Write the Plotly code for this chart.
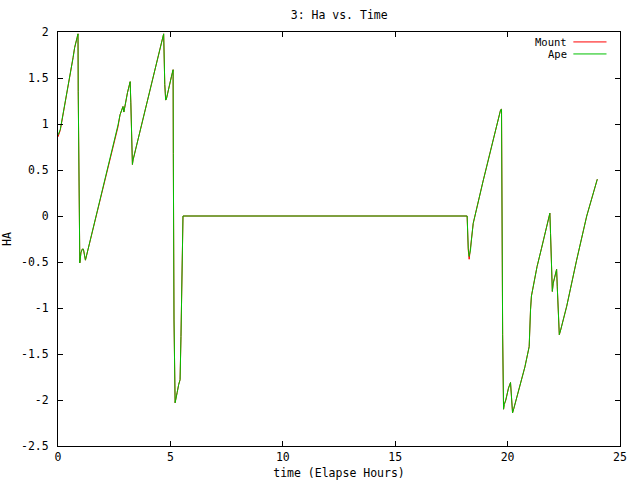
import plotly.graph_objects as go

# ---- data ----
time_hours = [
    0.00, 0.10, 0.67, 0.74, 0.85, 0.89, 0.90, 0.93, 0.97, 1.02,
    1.08, 1.13, 1.17, 1.22, 2.67, 2.76, 2.89, 2.93, 3.09, 3.15,
    3.21, 3.24, 3.27, 3.31, 3.34, 4.00, 4.67, 4.70, 4.75, 4.79,
    4.82, 5.05, 5.12, 5.13, 5.16, 5.21, 5.24, 5.30, 5.37, 5.43,
    5.47, 5.52, 5.56, 18.20, 18.21, 18.25, 18.29, 18.35, 18.39, 18.44,
    18.47, 18.91, 19.69, 19.73, 19.74, 19.78, 19.82, 19.85, 19.92, 19.98,
    20.04, 20.13, 20.16, 20.22, 20.28, 20.55, 20.77, 20.96, 20.97, 21.02,
    21.06, 21.14, 21.21, 21.31, 21.51, 21.73, 21.85, 21.88, 21.91, 21.96,
    21.99, 22.03, 22.11, 22.18, 22.21, 22.26, 22.30, 22.36, 22.63, 23.07,
    23.52, 23.99,
]

ape_ha = [
    0.88, 0.94, 1.72, 1.83, 1.94, 1.98, 1.35, 0.12, -0.51, -0.40,
    -0.36, -0.36, -0.44, -0.48, 0.99, 1.10, 1.19, 1.13, 1.34, 1.41,
    1.46, 1.23, 0.78, 0.56, 0.61, 1.26, 1.95, 1.98, 1.43, 1.26,
    1.27, 1.52, 1.59, 0.68, -1.13, -2.03, -2.00, -1.92, -1.83, -1.78,
    -1.31, -0.44, 0.00, 0.00, -0.10, -0.35, -0.44, -0.37, -0.26, -0.15,
    -0.08, 0.38, 1.155, 1.16, 0.34, -1.29, -2.10, -2.05, -2.00, -1.93,
    -1.87, -1.81, -1.98, -2.14, -2.09, -1.83, -1.64, -1.42, -1.27, -1.02,
    -0.87, -0.77, -0.68, -0.55, -0.35, -0.11, 0.00, 0.03, -0.19, -0.60,
    -0.82, -0.73, -0.66, -0.58, -0.77, -1.11, -1.29, -1.24, -0.98, -0.48,
    0.00, 0.40,
]

mount_ha = [
    0.86, 0.93, 1.72, 1.83, 1.94, 1.98, 1.35, 0.12, -0.51, -0.40,
    -0.36, -0.36, -0.44, -0.48, 0.97, 1.10, 1.19, 1.13, 1.34, 1.41,
    1.46, 1.23, 0.78, 0.56, 0.61, 1.26, 1.95, 1.98, 1.43, 1.26,
    1.27, 1.52, 1.59, 0.68, -1.13, -2.03, -2.00, -1.92, -1.83, -1.78,
    -1.31, -0.44, 0.00, 0.00, -0.10, -0.37, -0.47, -0.37, -0.26, -0.15,
    -0.08, 0.38, 1.155, 1.16, 0.34, -1.29, -2.10, -2.05, -2.00, -1.93,
    -1.87, -1.81, -1.98, -2.14, -2.09, -1.83, -1.64, -1.42, -1.27, -1.02,
    -0.87, -0.77, -0.68, -0.55, -0.35, -0.11, 0.00, 0.03, -0.19, -0.60,
    -0.82, -0.73, -0.66, -0.58, -0.77, -1.11, -1.29, -1.24, -0.98, -0.48,
    0.00, 0.40,
]

x_tick_vals = [0, 5, 10, 15, 20, 25]
x_tick_text = ["0", "5", "10", "15", "20", "25"]
y_tick_vals = [2, 1.5, 1, 0.5, 0, -0.5, -1, -1.5, -2, -2.5]
y_tick_text = ["2", "1.5", "1", "0.5", "0", "-0.5", "-1", "-1.5", "-2", "-2.5"]

series_names = ["Mount", "Ape"]
series_colors = ["#ff0000", "#00c000"]

FONT = "DejaVu Sans Mono"
FS = 11.5
KEY_FS = 10.5

fig = go.Figure()
fig.add_trace(go.Scatter(x=time_hours, y=mount_ha, mode="lines", name=series_names[0],
                         line=dict(color=series_colors[0], width=1), showlegend=False))
fig.add_trace(go.Scatter(x=time_hours, y=ape_ha, mode="lines", name=series_names[1],
                         line=dict(color=series_colors[1], width=1), showlegend=False))

axis_common = dict(
    showline=True, linecolor="black", linewidth=1, mirror="ticks",
    ticks="inside", ticklen=5, tickcolor="black", tickwidth=1,
    showgrid=False, zeroline=False, tickfont=dict(family=FONT, size=FS, color="black"),
)

fig.update_xaxes(range=[0, 25], tickmode="array", tickvals=x_tick_vals, ticktext=x_tick_text,
                 title=dict(text="time (Elapse Hours)", font=dict(family=FONT, size=FS, color="black"),
                            standoff=6),
                 **axis_common)
fig.update_yaxes(range=[-2.5, 2], tickmode="array", tickvals=y_tick_vals, ticktext=y_tick_text,
                 ticklabelstandoff=6,
                 title=dict(text="HA", font=dict(family=FONT, size=FS, color="black"), standoff=8),
                 **axis_common)

# gnuplot-style key: text right-aligned, sample line to the right
legend_y = [0.976, 0.947]
annotations = []
shapes = []
for name, color, yy in zip(series_names, series_colors, legend_y):
    annotations.append(dict(x=0.904, y=yy, xref="paper", yref="paper", text=name,
                            showarrow=False, xanchor="right", yanchor="middle", xshift=2,
                            borderpad=0,
                            font=dict(family=FONT, size=KEY_FS, color="black")))
    shapes.append(dict(type="line", xref="paper", yref="paper", x0=0.917, x1=0.976,
                       y0=yy, y1=yy, line=dict(color=color, width=1)))

fig.update_layout(
    width=640, height=480,
    margin=dict(l=58, r=20, t=32, b=34, autoexpand=False),
    paper_bgcolor="white", plot_bgcolor="white",
    title=dict(text="3: Ha vs. Time", x=0.53, xanchor="center", y=0.969, yanchor="middle",
               font=dict(family=FONT, size=FS, color="black")),
    annotations=annotations, shapes=shapes,
    showlegend=False,
)

fig.write_html("out.html", config={"displayModeBar": False},
               post_script="document.body.style.margin='0';document.body.style.padding='0';")
